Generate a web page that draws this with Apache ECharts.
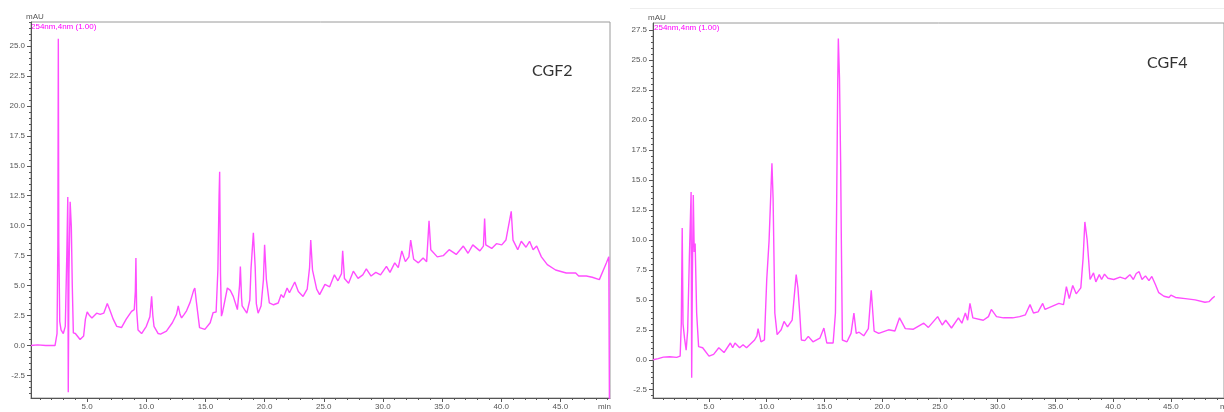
<!DOCTYPE html>
<html>
<head>
<meta charset="utf-8">
<script src="https://cdn.jsdelivr.net/npm/echarts@6/dist/echarts.min.js"></script>
<style>
html,body{margin:0;padding:0;background:#fff;}
#chart{width:1224px;height:412px;}
</style>
</head>
<body>
<div id="chart"></div>
<script>
// ---- CGF2 chromatogram (time in min, signal in mAU) ----
const cgf2Time = [0.25,0.8,1.5,2.28,2.45,2.52,2.56,2.6,2.68,2.79,2.98,3.15,3.28,3.36,3.4,3.46,3.56,3.66,3.74,3.83,4.0,4.4,4.7,4.85,5.0,5.2,5.4,5.8,6.1,6.4,6.7,6.9,7.2,7.5,7.9,8.3,8.75,8.98,9.07,9.12,9.18,9.3,9.6,10.0,10.3,10.45,10.55,10.65,11.0,11.2,11.7,12.2,12.55,12.7,12.85,12.98,13.2,13.4,13.7,14.0,14.1,14.25,14.5,14.95,15.4,15.65,15.9,16.05,16.15,16.2,16.27,16.35,16.45,16.85,17.1,17.35,17.7,17.88,17.95,18.05,18.1,18.5,18.75,18.85,19.05,19.2,19.3,19.45,19.7,19.9,20.0,20.15,20.4,20.75,21.15,21.4,21.6,21.9,22.1,22.55,22.85,23.25,23.6,23.8,23.9,24.05,24.4,24.65,25.1,25.5,25.9,26.2,26.5,26.6,26.75,27.1,27.5,27.9,28.3,28.6,29.0,29.4,29.8,30.3,30.6,31.0,31.3,31.6,31.9,32.2,32.35,32.6,33.0,33.4,33.7,33.9,34.05,34.6,35.1,35.6,36.2,36.8,37.2,37.6,38.2,38.5,38.6,38.7,39.2,39.6,40.05,40.4,40.85,41.0,41.4,41.7,42.1,42.4,42.7,43.0,43.4,43.9,44.6,45.5,46.3,46.55,47.2,47.7,48.3,48.9,49.1,49.15];
const cgf2Signal = [0.0,0.05,0.0,0.0,1.0,8.5,25.6,8.6,2.0,1.3,1.0,1.6,7.7,12.4,-3.9,6.0,12.0,9.9,5.0,1.05,1.0,0.5,0.8,2.2,2.8,2.5,2.3,2.7,2.6,2.7,3.5,3.0,2.2,1.6,1.5,2.2,2.85,3.0,4.5,7.3,3.0,1.3,1.0,1.6,2.4,4.1,2.5,1.6,1.0,0.95,1.2,1.9,2.6,3.3,2.6,2.3,2.6,2.9,3.6,4.6,4.8,3.5,1.5,1.35,1.9,2.75,2.8,6.3,12.5,14.5,6.0,2.45,2.8,4.8,4.6,4.1,3.0,5.0,6.6,4.0,3.3,2.7,3.8,6.4,9.4,6.6,3.5,2.7,3.3,5.5,8.4,5.5,3.55,3.4,3.55,4.25,4.0,4.8,4.4,5.3,4.5,4.1,4.7,6.5,8.8,6.3,4.7,4.25,5.1,4.9,5.9,5.4,6.0,7.9,5.6,5.2,6.2,5.6,5.9,6.4,5.8,6.1,5.9,6.6,6.1,6.9,6.5,7.9,7.0,7.4,8.8,7.2,6.9,7.3,7.0,10.4,8.0,7.4,7.5,8.0,7.6,8.3,7.7,8.4,7.9,8.3,10.6,8.4,8.1,8.5,8.4,8.8,11.2,8.8,8.0,8.7,8.2,8.7,8.0,8.3,7.4,6.75,6.3,6.05,6.05,5.8,5.8,5.7,5.5,6.9,7.4,-4.6];

// ---- CGF4 chromatogram ----
const cgf4Time = [0.15,0.6,1.05,1.6,2.2,2.5,2.6,2.68,2.75,2.88,3.02,3.15,3.3,3.45,3.5,3.56,3.64,3.72,3.8,3.93,4.1,4.45,5.0,5.4,5.85,6.3,6.85,7.05,7.25,7.65,7.95,8.25,8.95,9.15,9.25,9.5,9.8,10.0,10.2,10.45,10.55,10.7,10.9,11.25,11.5,11.8,12.2,12.4,12.55,12.7,12.85,13.0,13.3,13.6,14.0,14.6,14.95,15.2,15.75,15.95,16.05,16.15,16.2,16.3,16.4,16.45,16.55,16.95,17.3,17.55,17.75,18.0,18.4,18.8,19.05,19.3,19.7,20.55,21.1,21.5,22.0,22.7,23.6,24.0,24.8,25.2,25.5,26.0,26.6,26.9,27.2,27.4,27.6,27.85,28.75,29.2,29.45,29.9,30.5,31.3,31.9,32.4,32.8,33.1,33.5,33.9,34.1,34.7,35.3,35.7,35.95,36.2,36.5,36.8,37.2,37.4,37.55,37.75,38.0,38.3,38.5,38.8,39.0,39.25,39.55,40.05,40.6,41.05,41.45,41.75,42.0,42.25,42.5,42.8,43.1,43.35,43.65,43.95,44.4,44.85,45.0,45.4,46.25,47.1,47.95,48.3,48.55,48.8];
const cgf4Signal = [0.0,0.1,0.22,0.25,0.2,0.3,3.0,11.0,3.0,1.8,0.8,2.4,8.6,14.0,-1.5,7.0,13.75,9.0,9.7,3.9,1.1,1.0,0.3,0.45,1.0,0.6,1.4,1.0,1.4,1.0,1.25,1.0,1.65,2.0,2.6,1.5,1.65,6.7,9.9,16.4,13.5,3.9,2.1,2.5,3.2,2.75,3.3,5.5,7.1,6.0,4.0,1.65,1.6,1.95,1.5,1.8,2.65,1.4,1.4,3.9,12.5,23.3,26.8,23.5,16.5,11.0,1.65,1.5,2.2,3.9,2.2,2.3,2.0,2.6,5.8,2.4,2.2,2.5,2.4,3.5,2.6,2.55,3.05,2.7,3.6,2.9,3.3,2.65,3.5,3.05,3.9,3.3,4.7,3.5,3.3,3.6,4.2,3.6,3.5,3.5,3.6,3.75,4.6,3.9,4.0,4.7,4.2,4.45,4.7,4.6,6.1,5.1,6.2,5.5,6.0,8.5,11.5,10.0,6.7,7.25,6.5,7.1,6.7,7.15,6.8,6.7,6.9,6.75,7.1,6.7,7.2,7.35,6.7,7.0,6.6,6.95,6.3,5.6,5.3,5.2,5.4,5.2,5.1,5.0,4.8,4.85,5.1,5.3];

// ---- tick labels ----
const xLabelValues = [5,10,15,20,25,30,35,40,45];
const yLabelValuesCGF2 = [-2.5,0,2.5,5,7.5,10,12.5,15,17.5,20,22.5,25];
const yLabelValuesCGF4 = [-2.5,0,2.5,5,7.5,10,12.5,15,17.5,20,22.5,25,27.5];
const panelTitles = ['CGF2','CGF4'];
const unitY = 'mAU', unitX = 'min', channel = '254nm,4nm (1.00)';

function range(a, b, step){ const r=[]; for(let v=a; v<=b+1e-9; v+=step) r.push(Math.round(v*100)/100); return r; }
function pairs(t, s){ return t.map((x,i)=>[x, s[i]]); }

const lineColor = '#ff4dff';
const axisColor = '#555';
const labelStyle = {color:'#555', fontSize:8, fontFamily:'Liberation Sans'};

function xMain(grid, min, max){
  return {type:'value', gridIndex:grid, min, max, position:'bottom',
    axisLine:{show:true, onZero:false, lineStyle:{color:axisColor, width:1}},
    axisTick:{show:true, customValues:range(1,49,1), length:2, lineStyle:{color:axisColor}},
    axisLabel:Object.assign({customValues:xLabelValues, margin:5, formatter:v=>v.toFixed(1)}, labelStyle),
    splitLine:{show:false}};
}
function xMajor(grid, min, max){
  return {type:'value', gridIndex:grid, min, max, position:'bottom',
    axisLine:{show:false, onZero:false}, axisTick:{show:true, customValues:xLabelValues, length:4, lineStyle:{color:axisColor}},
    axisLabel:{show:false}, splitLine:{show:false}};
}
function yMain(grid, min, max, labels){
  return {type:'value', gridIndex:grid, min, max, position:'left',
    axisLine:{show:true, onZero:false, lineStyle:{color:axisColor, width:1}},
    axisTick:{show:true, customValues:range(-4,27.5,0.5), length:2, lineStyle:{color:axisColor}},
    axisLabel:Object.assign({customValues:labels, margin:6, formatter:v=>v.toFixed(1)}, labelStyle),
    splitLine:{show:false}};
}
function yMajor(grid, min, max, labels){
  return {type:'value', gridIndex:grid, min, max, position:'left',
    axisLine:{show:false, onZero:false}, axisTick:{show:true, customValues:labels, length:4, lineStyle:{color:axisColor}},
    axisLabel:{show:false}, splitLine:{show:false}};
}

const chart = echarts.init(document.getElementById('chart'), null, {renderer:'canvas'});
chart.setOption({
  animation:false,
  backgroundColor:'#ffffff',
  grid:[
    {left:31, top:22, width:579, height:376, show:true, borderColor:'#9a9a9a', borderWidth:1, backgroundColor:'transparent'},
    {left:653, top:23, width:583, height:375, show:true, borderColor:'#9a9a9a', borderWidth:1, backgroundColor:'transparent'}
  ],
  xAxis:[xMain(0,0.25,49.2), xMajor(0,0.25,49.2), xMain(1,0.15,49.6), xMajor(1,0.15,49.6)],
  yAxis:[yMain(0,-4.38,27.0,yLabelValuesCGF2), yMajor(0,-4.38,27.0,yLabelValuesCGF2),
         yMain(1,-3.19,28.1,yLabelValuesCGF4), yMajor(1,-3.19,28.1,yLabelValuesCGF4)],
  series:[
    {type:'line', xAxisIndex:0, yAxisIndex:0, data:pairs(cgf2Time,cgf2Signal), showSymbol:false, symbol:'none',
     lineStyle:{color:lineColor, width:1.4}, clip:true},
    {type:'line', xAxisIndex:2, yAxisIndex:2, data:pairs(cgf4Time,cgf4Signal), showSymbol:false, symbol:'none',
     lineStyle:{color:lineColor, width:1.4}, clip:true}
  ],
  graphic:[
    {type:'line', shape:{x1:630, y1:8.5, x2:1224, y2:8.5}, style:{stroke:'#eeeeee', lineWidth:1}},
    {type:'text', left:26, top:13, style:{text:unitY, fill:'#555', fontSize:8, fontFamily:'Liberation Sans'}},
    {type:'text', left:31, top:23, style:{text:channel, fill:'#ff00ff', fontSize:8, fontFamily:'Liberation Sans'}},
    {type:'text', left:598, top:403, style:{text:unitX, fill:'#555', fontSize:8, fontFamily:'Liberation Sans'}},
    {type:'text', left:648, top:14, style:{text:unitY, fill:'#555', fontSize:8, fontFamily:'Liberation Sans'}},
    {type:'text', left:654, top:24, style:{text:channel, fill:'#ff00ff', fontSize:8, fontFamily:'Liberation Sans'}},
    {type:'text', left:1220, top:403, style:{text:unitX, fill:'#555', fontSize:8, fontFamily:'Liberation Sans'}},
    {type:'text', left:532, top:63, style:{text:panelTitles[0], fill:'#333', fontSize:16, fontFamily:'Lato'}},
    {type:'text', left:1147, top:55, style:{text:panelTitles[1], fill:'#333', fontSize:16, fontFamily:'Lato'}}
  ]
});
</script>
</body>
</html>
